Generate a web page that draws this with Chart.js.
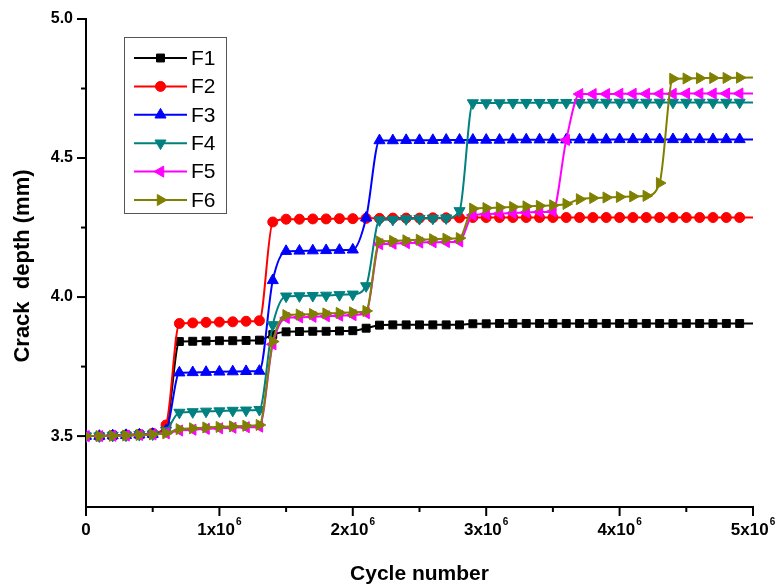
<!DOCTYPE html>
<html><head><meta charset="utf-8">
<script src="https://cdn.jsdelivr.net/npm/chart.js@4.4.0/dist/chart.umd.min.js"></script>
<style>html,body{margin:0;padding:0;background:#fff;}#wrap{width:777px;height:588px;position:relative;}</style>
</head><body><div id="wrap"><canvas id="c" width="777" height="588"></canvas></div>
<script>
// Cycle numbers (x values)
const cycles = [0,100000,200000,300000,400000,500000,600000,700000,800000,900000,
1000000,1100000,1200000,1300000,1400000,1500000,1600000,1700000,1800000,1900000,
2000000,2100000,2200000,2300000,2400000,2500000,2600000,2700000,2800000,2900000,
3000000,3100000,3200000,3300000,3400000,3500000,3600000,3700000,3800000,3900000,
4000000,4100000,4200000,4300000,4400000,4500000,4600000,4700000,4800000,4900000,5000000];

const F1 = [3.500,3.500,3.502,3.504,3.506,3.508,3.530,
3.840,3.841,3.842,3.843,3.843,3.844,3.845,
3.865,
3.875,3.876,3.877,3.877,3.878,3.879,
3.888,
3.899,3.900,3.900,3.900,3.900,3.900,3.900,
3.904,3.904,3.905,3.905,3.905,3.905,3.905,3.905,3.905,3.905,3.905,3.905,3.905,3.905,3.905,3.905,3.905,3.905,3.905,3.905,3.905,3.905];

const F2 = [3.500,3.500,3.502,3.504,3.506,3.510,3.540,
3.905,3.907,3.909,3.910,3.911,3.913,3.915,
4.270,
4.280,4.280,4.281,4.281,4.282,4.282,
4.283,4.283,4.284,4.284,4.284,4.285,4.285,4.285,
4.286,4.286,4.286,4.286,4.286,4.286,4.286,4.286,4.286,4.286,4.286,4.286,4.286,4.286,4.286,4.286,4.286,4.286,4.286,4.286,4.286,4.286];

const F3 = [3.500,3.500,3.502,3.503,3.505,3.507,3.520,
3.728,3.729,3.730,3.731,3.732,3.733,3.734,
4.060,
4.165,4.166,4.167,4.168,4.169,4.170,
4.285,
4.563,4.563,4.564,4.564,4.564,4.565,4.565,4.565,4.565,4.565,4.566,4.566,4.566,4.566,4.566,4.566,4.566,4.566,4.567,4.567,4.567,4.567,4.567,4.567,4.567,4.567,4.567,4.567,4.567];

const F4 = [3.500,3.500,3.502,3.503,3.505,3.507,3.520,
3.585,3.587,3.589,3.590,3.592,3.593,3.595,
3.900,
4.003,4.004,4.005,4.006,4.008,4.010,
4.040,
4.277,4.279,4.281,4.282,4.283,4.284,
4.310,
4.698,4.698,4.698,4.699,4.699,4.699,4.699,4.699,4.699,4.700,4.700,4.700,4.700,4.700,4.700,4.700,4.700,4.700,4.700,4.700,4.700,4.700];

const F5 = [3.500,3.500,3.501,3.502,3.504,3.506,3.510,
3.520,3.523,3.526,3.528,3.530,3.532,3.534,
3.830,
3.925,3.927,3.929,3.931,3.933,3.935,
3.942,
4.190,4.192,4.194,4.196,4.197,4.198,4.200,
4.295,4.298,4.300,4.302,4.304,4.306,4.308,
4.565,
4.730,4.730,4.730,4.731,4.731,4.731,4.731,4.731,4.732,4.732,4.732,4.732,4.732,4.732];

const F6 = [3.500,3.500,3.501,3.502,3.504,3.506,3.510,
3.525,3.528,3.531,3.533,3.535,3.537,3.540,
3.840,
3.935,3.937,3.939,3.941,3.943,3.945,
3.950,
4.200,4.202,4.204,4.206,4.208,4.210,4.212,
4.318,4.320,4.322,4.324,4.326,4.328,4.330,
4.335,
4.352,4.356,4.358,4.360,4.362,4.364,
4.410,
4.785,4.786,4.787,4.788,4.788,4.789,4.790];

const seriesNames = ['F1','F2','F3','F4','F5','F6'];
const yTickValues = [3.5,3.75,4.0,4.25,4.5,4.75,5.0];
const yTickLabels = ['3.5','','4.0','','4.5','','5.0'];
const xTickValues = [0,500000,1000000,1500000,2000000,2500000,3000000,3500000,4000000,4500000,5000000];
const xTickBase = ['0','','1x10','','2x10','','3x10','','4x10','','5x10'];
const xTickExp = ['','','6','','6','','6','','6','','6'];

const allSeries = [F1,F2,F3,F4,F5,F6];
const colors = ['#000000','#ff0000','#0000ff','#008080','#ff00ff','#808000'];
const styles = [
  {ps:'rect', rot:0, r:5.6},
  {ps:'circle', rot:0, r:5},
  {ps:'triangle', rot:0, r:6.4},
  {ps:'triangle', rot:180, r:6.4},
  {ps:'triangle', rot:270, r:6.4},
  {ps:'triangle', rot:90, r:6.4}
];

const datasets = allSeries.map((s,k)=>({
  label: seriesNames[k],
  data: cycles.map((x,i)=>({x:x, y:s[i]})),
  borderColor: colors[k],
  backgroundColor: colors[k],
  pointBackgroundColor: colors[k],
  pointBorderColor: colors[k],
  pointBorderWidth: 1,
  borderWidth: 2,
  pointStyle: styles[k].ps,
  pointRotation: styles[k].rot,
  pointRadius: (ctx)=> ctx.dataIndex === cycles.length-1 ? 0 : styles[k].r,
  cubicInterpolationMode: 'monotone',
  order: 6-k
}));

const FONT = '"Liberation Sans", Arial, Helvetica, sans-serif';

const decor = {
  id:'decor',
  afterDraw(chart){
    const ctx = chart.ctx;
    const xs = chart.scales.x, ys = chart.scales.y;
    const area = chart.chartArea;
    ctx.save();
    ctx.strokeStyle = '#000'; ctx.fillStyle = '#000'; ctx.lineWidth = 2;
    // y ticks
    yTickValues.forEach((v,i)=>{
      const y = ys.getPixelForValue(v);
      const len = yTickLabels[i] ? 9 : 5;
      ctx.beginPath(); ctx.moveTo(area.left, y); ctx.lineTo(area.left-len, y); ctx.stroke();
      if (yTickLabels[i]) {
        ctx.font = 'bold 16px ' + FONT;
        ctx.textAlign = 'right'; ctx.textBaseline = 'middle';
        ctx.fillText(yTickLabels[i], area.left-13, y);
      }
    });
    // x ticks
    xTickValues.forEach((v,i)=>{
      const x = xs.getPixelForValue(v);
      const major = xTickBase[i] !== '';
      const len = major ? 9 : 5;
      ctx.beginPath(); ctx.moveTo(x, area.bottom); ctx.lineTo(x, area.bottom+len); ctx.stroke();
      if (major) {
        ctx.textBaseline = 'alphabetic';
        ctx.font = 'bold 17px ' + FONT;
        const wb = ctx.measureText(xTickBase[i]).width;
        let we = 0;
        if (xTickExp[i]) { ctx.font = 'bold 10px ' + FONT; we = ctx.measureText(xTickExp[i]).width + 1; }
        const x0 = x - (wb+we)/2;
        ctx.textAlign = 'left';
        ctx.font = 'bold 17px ' + FONT;
        ctx.fillText(xTickBase[i], x0, area.bottom+28);
        if (xTickExp[i]) { ctx.font = 'bold 10px ' + FONT; ctx.fillText(xTickExp[i], x0+wb+1, area.bottom+18); }
      }
    });
    // axis titles
    ctx.font = 'bold 21px ' + FONT;
    ctx.textAlign = 'center'; ctx.textBaseline = 'alphabetic';
    ctx.fillText('Cycle number', (area.left+area.right)/2, 580);
    ctx.save();
    ctx.translate(29, 266);
    ctx.rotate(-Math.PI/2);
    ctx.font = 'bold 22px ' + FONT;
    ctx.fillText('Crack  depth (mm)', 0, 0);
    ctx.restore();
    // legend
    const lx = 124.5, ly = 37.5, lw = 102, lh = 176;
    ctx.fillStyle = '#fff'; ctx.fillRect(lx, ly, lw, lh);
    ctx.strokeStyle = '#555'; ctx.lineWidth = 1;
    ctx.strokeRect(lx, ly, lw, lh);
    chart.data.datasets.forEach((ds,k)=>{
      const y = 58 + k*28.4;
      ctx.strokeStyle = ds.borderColor; ctx.lineWidth = 2;
      ctx.beginPath(); ctx.moveTo(134, y); ctx.lineTo(187, y); ctx.stroke();
      ctx.fillStyle = ds.borderColor; ctx.lineWidth = 1;
      Chart.helpers.drawPoint(ctx, {pointStyle: styles[k].ps, rotation: styles[k].rot, radius: styles[k].r, borderWidth: 1}, 160.5, y);
      ctx.fillStyle = '#000';
      ctx.font = '21px ' + FONT; ctx.textAlign = 'left'; ctx.textBaseline = 'middle';
      ctx.fillText(ds.label, 191, y+1);
    });
    ctx.restore();
  }
};

new Chart(document.getElementById('c'), {
  type: 'line',
  data: { datasets },
  options: {
    responsive: false, animation: false,
    layout: { padding: { left: 0, right: 24, top: 19, bottom: 0 } },
    plugins: { legend: { display: false }, tooltip: { enabled: false } },
    scales: {
      x: { type: 'linear', min: 0, max: 5000000,
           grid: { display: false }, border: { display: true, color: '#000', width: 2 },
           ticks: { display: false }, afterFit(s){ s.height = 81; } },
      y: { type: 'linear', min: 3.245, max: 5.0,
           grid: { display: false }, border: { display: true, color: '#000', width: 2 },
           ticks: { display: false }, afterFit(s){ s.width = 86; } }
    }
  },
  plugins: [decor]
});
</script></body></html>
